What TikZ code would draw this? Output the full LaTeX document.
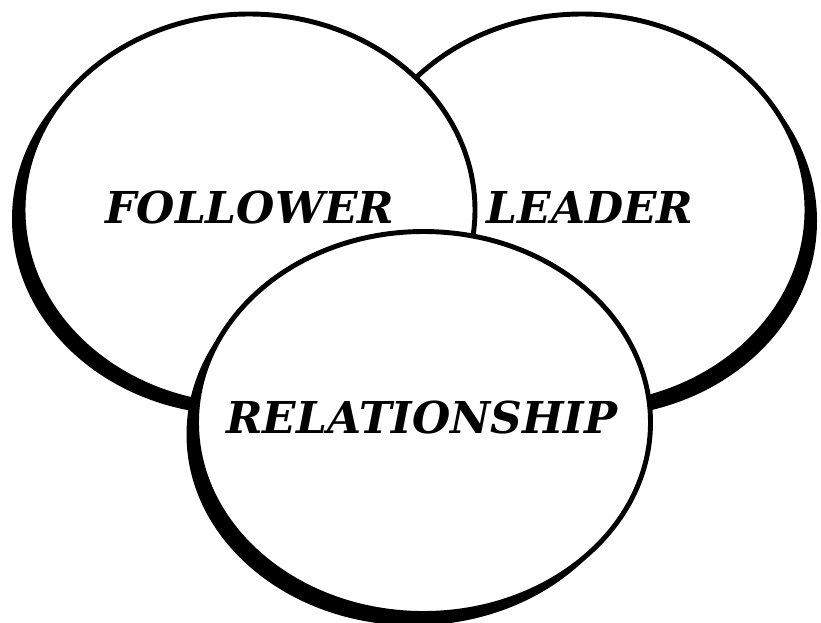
\documentclass[tikz,border=0pt]{standalone}
\usepackage{fontspec}
\newfontfamily\labelfont{DejaVu Serif}
\begin{document}
\begin{tikzpicture}[scale=0.2]
\tikzstyle{every node}+=[inner sep=0pt,font=\labelfont\bfseries\itshape\fontsize{25}{30}\selectfont]
\tikzstyle{ring}=[draw=black,fill=white,line width=2.8pt]
\useasboundingbox (0,0) rectangle (82.1,-62.3);
% leader sits at the back, shadow to the lower right
\fill [black] (59.2,-22.1) ellipse (22.5 and 19.6);
\draw [ring] (58.2,-21) ellipse (22.5 and 19.6);
% follower
\fill [black] (23.8,-21.9) ellipse (22.6 and 19.6);
\draw [ring] (24.9,-21) ellipse (22.6 and 19.6);
% relationship in front
\fill [black] (41.35,-43.45) ellipse (22.7 and 19.1);
\draw [ring] (42.35,-42.25) ellipse (22.7 and 19.1);
\draw (25,-22.3) node [anchor=base] (follower) {FOLLOWER};
\draw (59,-22.3) node [anchor=base] (leader) {LEADER};
\draw (42.2,-43.3) node [anchor=base] (relationship) {RELATIONSHIP};
\end{tikzpicture}
\end{document}
